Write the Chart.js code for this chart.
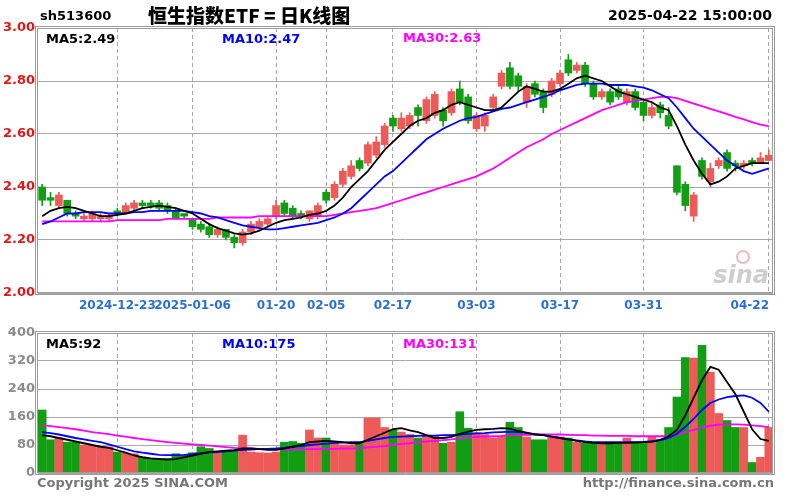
<!DOCTYPE html>
<html><head><meta charset="utf-8">
<script src="https://cdn.jsdelivr.net/npm/chart.js@4.4.1/dist/chart.umd.min.js"></script>
<style>
html,body{margin:0;padding:0;background:#fff;}
#wrap{position:relative;width:800px;height:500px;overflow:hidden;background:#fff;font-family:'DejaVu Sans',sans-serif;font-weight:bold;}
canvas{position:absolute;left:0;}
.t{position:absolute;white-space:nowrap;line-height:1;}
</style></head><body>
<div id="wrap">
<canvas id="c1" width="800" height="320" style="top:0"></canvas>
<canvas id="c2" width="800" height="180" style="top:320px"></canvas>
<div class="t" style="left:40px;top:9px;font-size:13px;color:#000">sh513600</div>
<div class="t" style="left:148px;top:5px;font-size:19px;color:#000;font-family:'Noto Sans CJK SC';font-weight:900">恒生指数ETF = 日K线图</div>
<div class="t" style="right:28px;top:8px;font-size:14px;color:#000">2025-04-22 15:00:00</div>
<div class="t" id="l1" style="left:46px;top:32px;font-size:13px;color:#000"></div>
<div class="t" id="l2" style="left:222px;top:32px;font-size:13px;color:#0000ff"></div>
<div class="t" id="l3" style="left:403px;top:31px;font-size:13px;color:#ff00ff"></div>
<div class="t" id="v1" style="left:46px;top:337px;font-size:13px;color:#000"></div>
<div class="t" id="v2" style="left:222px;top:337px;font-size:13px;color:#0000ff"></div>
<div class="t" id="v3" style="left:403px;top:337px;font-size:13px;color:#ff00ff"></div>
<div class="t" style="left:37px;top:476px;font-size:13px;color:#777">Copyright 2025 SINA.COM</div>
<div class="t" style="right:26px;top:476px;font-size:13px;color:#777">http://finance.sina.com.cn</div>
</div>
<script>
const dates = ['2024-12-10','2024-12-11','2024-12-12','2024-12-13','2024-12-16','2024-12-17','2024-12-18','2024-12-19','2024-12-20','2024-12-23','2024-12-24','2024-12-25','2024-12-26','2024-12-27','2024-12-30','2024-12-31',
'2025-01-02','2025-01-03','2025-01-06','2025-01-07','2025-01-08','2025-01-09','2025-01-10','2025-01-13','2025-01-14','2025-01-15','2025-01-16','2025-01-17','2025-01-20','2025-01-21','2025-01-22','2025-01-23','2025-01-24','2025-01-27',
'2025-02-05','2025-02-06','2025-02-07','2025-02-10','2025-02-11','2025-02-12','2025-02-13','2025-02-14','2025-02-17','2025-02-18','2025-02-19','2025-02-20','2025-02-21','2025-02-24','2025-02-25','2025-02-26','2025-02-27','2025-02-28',
'2025-03-03','2025-03-04','2025-03-05','2025-03-06','2025-03-07','2025-03-10','2025-03-11','2025-03-12','2025-03-13','2025-03-14','2025-03-17','2025-03-18','2025-03-19','2025-03-20','2025-03-21','2025-03-24','2025-03-25','2025-03-26','2025-03-27','2025-03-28','2025-03-31',
'2025-04-01','2025-04-02','2025-04-03','2025-04-07','2025-04-08','2025-04-09','2025-04-10','2025-04-11','2025-04-14','2025-04-15','2025-04-16','2025-04-17','2025-04-18','2025-04-21','2025-04-22'];

const openP  = [2.40,2.36,2.33,2.35,2.30,2.28,2.28,2.28,2.28,2.31, 2.30,2.32,2.34,2.34,2.34,2.33,2.31,2.30,2.28,2.26, 2.25,2.22,2.24,2.21,2.19,2.23,2.25,2.26,2.29,2.34, 2.32,2.30,2.28,2.29,2.38,2.36,2.41,2.44,2.50,2.49, 2.52,2.56,2.66,2.62,2.63,2.70,2.65,2.67,2.69,2.68, 2.77,2.74,2.62,2.63,2.70,2.78,2.85,2.82,2.72,2.79, 2.76,2.75,2.79,2.88,2.84,2.86,2.79,2.74,2.76,2.77, 2.72,2.76,2.72,2.67,2.71,2.67,2.48,2.41,2.29,2.50, 2.42,2.48,2.53,2.49,2.48,2.50,2.49,2.50];
const highP  = [2.41,2.38,2.38,2.35,2.31,2.30,2.31,2.30,2.30,2.32, 2.34,2.35,2.35,2.35,2.35,2.34,2.32,2.30,2.28,2.27, 2.26,2.25,2.24,2.22,2.24,2.27,2.28,2.29,2.35,2.35, 2.33,2.31,2.31,2.34,2.39,2.42,2.47,2.50,2.51,2.57, 2.59,2.64,2.67,2.68,2.68,2.71,2.74,2.76,2.70,2.77, 2.80,2.75,2.68,2.68,2.75,2.84,2.87,2.83,2.79,2.80, 2.77,2.81,2.84,2.90,2.87,2.87,2.80,2.77,2.77,2.78, 2.77,2.77,2.73,2.72,2.72,2.70,2.48,2.42,2.38,2.51, 2.49,2.51,2.54,2.50,2.50,2.51,2.53,2.54];
const lowP   = [2.33,2.33,2.32,2.29,2.28,2.27,2.27,2.27,2.27,2.29, 2.30,2.31,2.32,2.32,2.31,2.30,2.28,2.28,2.24,2.23, 2.21,2.21,2.20,2.17,2.18,2.22,2.24,2.25,2.28,2.29, 2.28,2.28,2.27,2.28,2.34,2.35,2.40,2.43,2.46,2.48, 2.51,2.55,2.61,2.61,2.62,2.63,2.64,2.66,2.63,2.67, 2.71,2.64,2.61,2.61,2.69,2.77,2.77,2.76,2.70,2.74, 2.68,2.74,2.78,2.82,2.83,2.78,2.73,2.73,2.71,2.73, 2.71,2.69,2.65,2.66,2.66,2.62,2.37,2.31,2.27,2.43, 2.40,2.47,2.46,2.46,2.47,2.48,2.49,2.50];
const closeP = [2.35,2.35,2.37,2.30,2.29,2.29,2.30,2.29,2.29,2.30, 2.33,2.34,2.33,2.33,2.32,2.31,2.28,2.29,2.25,2.24, 2.22,2.24,2.21,2.19,2.23,2.26,2.27,2.28,2.33,2.30, 2.29,2.29,2.31,2.33,2.35,2.41,2.46,2.48,2.47,2.56, 2.57,2.63,2.63,2.66,2.67,2.67,2.73,2.75,2.65,2.76, 2.72,2.65,2.67,2.67,2.74,2.83,2.78,2.78,2.78,2.75, 2.70,2.80,2.83,2.83,2.86,2.79,2.74,2.76,2.72,2.74, 2.76,2.70,2.67,2.70,2.68,2.63,2.38,2.33,2.37,2.44, 2.47,2.50,2.47,2.48,2.49,2.49,2.51,2.52];

const ma5  = [2.29,2.31,2.32,2.325,2.32,2.31,2.30,2.29,2.29,2.295, 2.30,2.31,2.32,2.325,2.33,2.325,2.32,2.31,2.30,2.28, 2.26,2.245,2.235,2.225,2.22,2.225,2.235,2.25,2.265,2.275, 2.28,2.285,2.295,2.30,2.31,2.33,2.36,2.40,2.43,2.46, 2.50,2.54,2.57,2.60,2.63,2.65,2.66,2.68,2.69,2.71, 2.72,2.71,2.70,2.69,2.69,2.70,2.73,2.76,2.78,2.77, 2.76,2.76,2.77,2.79,2.81,2.82,2.81,2.80,2.78,2.76, 2.75,2.74,2.73,2.72,2.70,2.69,2.63,2.56,2.50,2.45, 2.41,2.42,2.44,2.47,2.48,2.49,2.49,2.49];
const ma10 = [2.26,2.27,2.285,2.30,2.30,2.305,2.305,2.305,2.30,2.30, 2.30,2.305,2.305,2.31,2.31,2.31,2.31,2.31,2.305,2.30, 2.29,2.285,2.275,2.265,2.255,2.25,2.245,2.24,2.24,2.245, 2.25,2.255,2.26,2.265,2.275,2.285,2.30,2.32,2.35,2.38, 2.41,2.44,2.46,2.49,2.52,2.55,2.58,2.60,2.62,2.635, 2.65,2.66,2.665,2.675,2.685,2.695,2.70,2.71,2.72,2.73, 2.74,2.75,2.765,2.775,2.785,2.79,2.79,2.79,2.785,2.785, 2.785,2.78,2.775,2.765,2.75,2.735,2.70,2.66,2.62,2.59, 2.56,2.53,2.50,2.48,2.46,2.45,2.46,2.47];
const ma30 = [2.27,2.27,2.27,2.27,2.27,2.27,2.27,2.27,2.27,2.275, 2.275,2.275,2.275,2.275,2.275,2.28,2.28,2.28,2.28,2.28, 2.28,2.285,2.285,2.285,2.285,2.285,2.29,2.29,2.29,2.29, 2.29,2.29,2.29,2.29,2.29,2.295,2.30,2.305,2.31,2.315, 2.32,2.33,2.34,2.35,2.36,2.37,2.38,2.39,2.40,2.41, 2.42,2.43,2.44,2.455,2.47,2.49,2.51,2.53,2.55,2.565, 2.58,2.60,2.615,2.63,2.645,2.66,2.675,2.69,2.70,2.71, 2.72,2.725,2.73,2.735,2.74,2.74,2.735,2.725,2.715,2.705, 2.695,2.685,2.675,2.665,2.655,2.645,2.635,2.63];

const volume = [180,95,100,88,88,80,78,76,75,60, 57,55,45,42,40,42,55,50,58,75, 70,57,65,65,108,60,58,57,60,88, 90,85,123,100,100,85,80,80,85,157, 157,130,123,117,110,100,108,105,85,88, 175,128,115,110,100,105,145,130,103,95, 95,103,103,100,88,85,85,85,85,85, 100,88,88,103,95,130,217,330,328,365, 288,170,150,130,130,30,45,130];
const volMa5  = [108,105,100,95,90,85,80,75,72,65, 58,50,45,42,40,38,40,45,50,55, 60,62,64,65,70,70,68,66,66,70, 75,80,88,90,92,90,88,85,85,95, 105,115,125,128,122,117,108,100,100,103, 112,118,123,125,126,128,127,120,115,110, 108,104,100,96,92,88,86,85,85,86, 86,87,88,89,95,105,123,165,215,265, 303,295,260,225,175,125,97,92];
const volMa10 = [117,114,110,105,100,96,92,88,82,75, 68,62,58,55,52,51,51,52,54,57, 59,60,62,64,66,67,68,69,70,72, 75,77,80,82,84,86,87,88,88,92, 96,100,103,104,105,106,107,107,108,108, 110,112,113,114,116,117,118,117,114,111, 108,104,100,96,93,90,88,88,88,88, 88,88,89,91,93,100,112,132,155,180, 200,210,217,220,222,215,200,175];
const volMa30 = [137,134,131,128,125,121,117,114,111,107, 104,100,97,94,91,88,86,84,82,80, 78,76,74,72,71,70,69,68,68,67, 67,67,68,68,69,69,70,70,71,73, 75,77,80,83,85,88,90,92,94,96, 99,101,103,104,105,106,108,109,109,110, 110,110,110,109,108,108,107,107,106,106, 106,105,105,105,105,106,110,117,123,130, 135,138,139,139,138,136,134,131];

const xTickDates = ['2024-12-23','2025-01-06','2025-01-20','2025-02-05','2025-02-17','2025-03-03','2025-03-17','2025-03-31','2025-04-22'];
const xTickText  = ['2024-12-23','2025-01-06','01-20','02-05','02-17','03-03','03-17','03-31','04-22'];
const priceTicks = [2.00,2.20,2.40,2.60,2.80,3.00];
const volTicks   = [0,80,160,240,320,400];

const UP = '#ee5a58', DOWN = '#129e12';
const candleColor = openP.map((o,i)=> closeP[i] >= o ? UP : DOWN);
const bodies = openP.map((o,i)=>[o, closeP[i]]);
const wicks  = lowP.map((l,i)=>[l, highP[i]]);

document.getElementById('l1').textContent = 'MA5:' + ma5[ma5.length-1].toFixed(2);
document.getElementById('l2').textContent = 'MA10:' + ma10[ma10.length-1].toFixed(2);
document.getElementById('l3').textContent = 'MA30:' + ma30[ma30.length-1].toFixed(2);
document.getElementById('v1').textContent = 'MA5:' + volMa5[volMa5.length-1];
document.getElementById('v2').textContent = 'MA10:' + volMa10[volMa10.length-1];
document.getElementById('v3').textContent = 'MA30:' + volMa30[volMa30.length-1];

Chart.defaults.font.family = "'DejaVu Sans', sans-serif";
const GRID = '#a8a8a8';

const framePlugin = {
  id: 'frame',
  afterDraw(chart) {
    const {ctx, chartArea: a} = chart;
    ctx.save();
    ctx.strokeStyle = '#9c9c9c';
    ctx.lineWidth = 1;
    ctx.strokeRect(a.left - 2.5, a.top - 1.5, a.width + 4, a.height + 3);
    ctx.strokeRect(a.left - 0.5, a.top + 0.5, a.width, a.height - 1);
    ctx.restore();
  }
};

const xLabelPlugin = {
  id: 'xlabels',
  afterDraw(chart) {
    const {ctx, chartArea: a} = chart;
    const xs = chart.scales.x;
    ctx.save();
    ctx.font = "bold 12px 'DejaVu Sans'";
    ctx.fillStyle = '#2a70d0';
    ctx.textAlign = 'center';
    ctx.textBaseline = 'middle';
    xTickDates.forEach((d, k) => {
      let x = xs.getPixelForValue(dates.indexOf(d));
      const w = ctx.measureText(xTickText[k]).width;
      if (x + w / 2 > a.right - 4) x = a.right - 4 - w / 2;
      ctx.fillText(xTickText[k], x, a.bottom + 13);
    });
    ctx.restore();
  },
  beforeDatasetsDraw(chart) {
    const {ctx, chartArea: a} = chart;
    ctx.save();
    ctx.font = "italic bold 24px 'DejaVu Sans'";
    ctx.fillStyle = 'rgba(190,190,190,0.75)';
    ctx.textAlign = 'right';
    ctx.textBaseline = 'alphabetic';
    ctx.fillText('sina', a.right - 4, a.bottom - 10);
    ctx.strokeStyle = 'rgba(235,170,170,0.8)';
    ctx.lineWidth = 2;
    ctx.beginPath(); ctx.arc(a.right - 30, a.bottom - 36, 6, 0, Math.PI * 2); ctx.stroke();
    ctx.restore();
  }
};

const xGridColor = c => xTickDates.includes(dates[c.index]) ? GRID : 'rgba(0,0,0,0)';

function xScale(h) {
  return {
    offset: true,
    ticks: {display: false, autoSkip: false},
    grid: {color: xGridColor, offset: false, drawTicks: false, lineWidth: 1},
    border: {display: false, dash: [4, 3]},
    afterFit: s => { s.height = h; }
  };
}

new Chart(document.getElementById('c1'), {
  type: 'bar',
  data: {
    labels: dates,
    datasets: [
      {type: 'line', data: ma5, borderColor: '#000000', borderWidth: 1.8, pointRadius: 0, order: 0},
      {type: 'line', data: ma10, borderColor: '#0000ff', borderWidth: 1.8, pointRadius: 0, order: 0},
      {type: 'line', data: ma30, borderColor: '#ff00ff', borderWidth: 1.8, pointRadius: 0, order: 0},
      {type: 'bar', data: bodies, backgroundColor: candleColor, barThickness: 7, grouped: false, minBarLength: 1, order: 1},
      {type: 'bar', data: wicks, backgroundColor: candleColor, barThickness: 1, grouped: false, order: 2}
    ]
  },
  options: {
    responsive: false, animation: false, devicePixelRatio: 1, events: [],
    layout: {padding: {left: 0, right: 27, top: 28, bottom: 0}},
    plugins: {legend: {display: false}, tooltip: {enabled: false}},
    scales: {
      x: xScale(27),
      y: {
        min: 2.0, max: 3.0,
        afterBuildTicks: s => { s.ticks = priceTicks.map(v => ({value: v})); },
        afterFit: s => { s.width = 38; },
        ticks: {color: '#e01818', font: {size: 13, weight: 'bold'}, padding: 3, callback: v => Number(v).toFixed(2)},
        grid: {color: GRID, drawTicks: false, lineWidth: 1},
        border: {display: false}
      }
    }
  },
  plugins: [framePlugin, xLabelPlugin]
});

new Chart(document.getElementById('c2'), {
  type: 'bar',
  data: {
    labels: dates,
    datasets: [
      {type: 'line', data: volMa5, borderColor: '#000000', borderWidth: 1.8, pointRadius: 0, order: 0},
      {type: 'line', data: volMa10, borderColor: '#0000ff', borderWidth: 1.8, pointRadius: 0, order: 0},
      {type: 'line', data: volMa30, borderColor: '#ff00ff', borderWidth: 1.8, pointRadius: 0, order: 0},
      {type: 'bar', data: volume, backgroundColor: candleColor, barThickness: 8, grouped: false, order: 1}
    ]
  },
  options: {
    responsive: false, animation: false, devicePixelRatio: 1, events: [],
    layout: {padding: {left: 0, right: 27, top: 13, bottom: 0}},
    plugins: {legend: {display: false}, tooltip: {enabled: false}},
    scales: {
      x: xScale(27),
      y: {
        min: 0, max: 400,
        afterBuildTicks: s => { s.ticks = volTicks.map(v => ({value: v})); },
        afterFit: s => { s.width = 38; },
        ticks: {color: '#8c8c8c', font: {size: 13, weight: 'bold'}, padding: 3},
        grid: {color: GRID, drawTicks: false, lineWidth: 1},
        border: {display: false}
      }
    }
  },
  plugins: [framePlugin]
});
</script>
</body></html>
